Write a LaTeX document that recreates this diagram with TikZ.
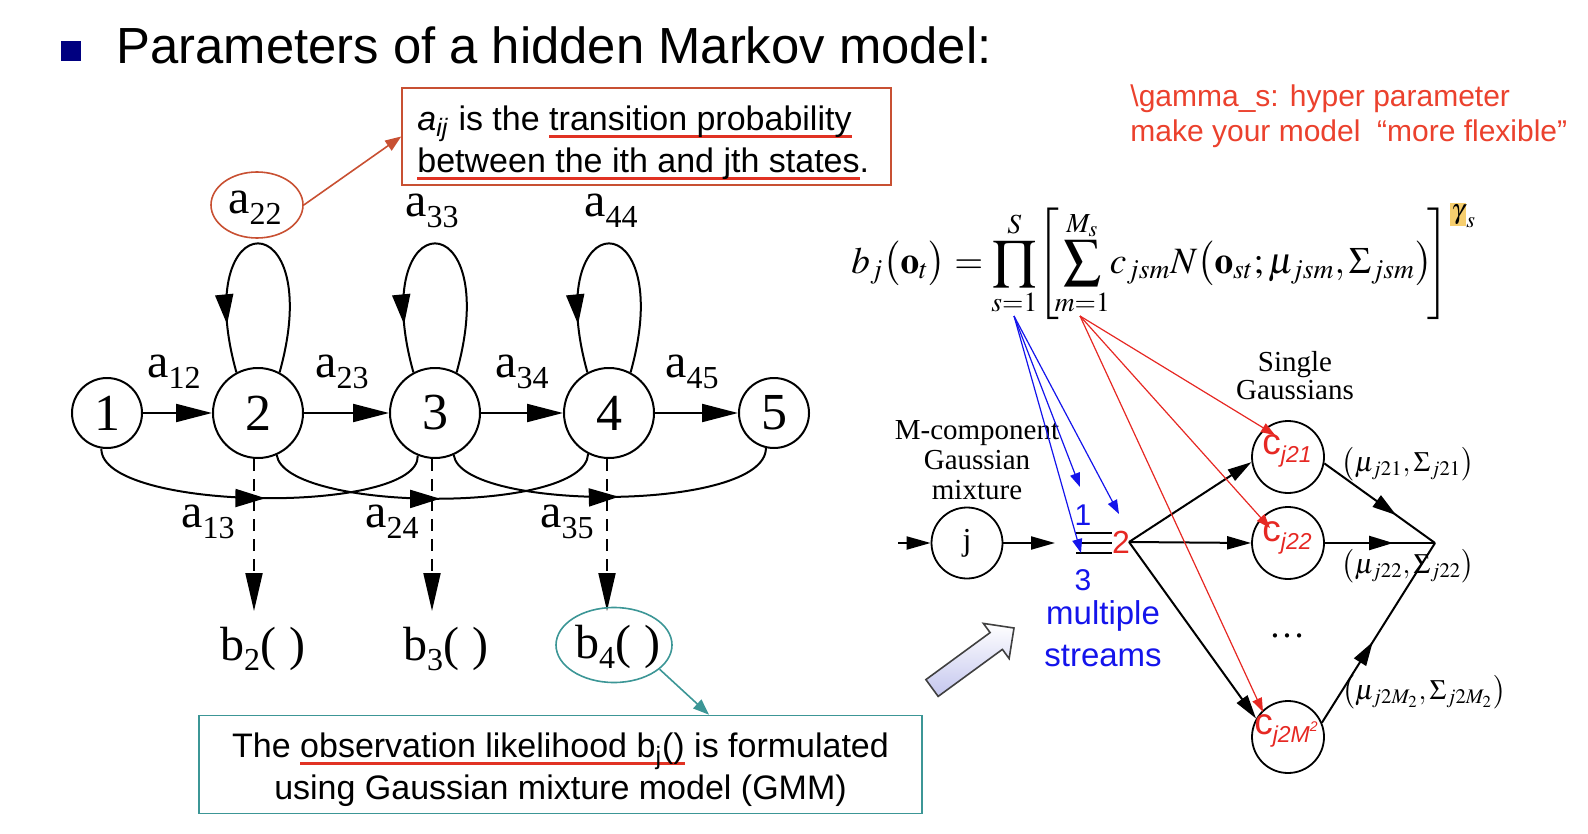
\documentclass[tikz,border=0pt]{standalone}
\usepackage{mathptmx}
\usepackage{fontspec}
\setmainfont{Liberation Serif}
\newfontfamily\arial{Liberation Sans}
\usetikzlibrary{arrows.meta,decorations.markings,shapes.geometric,calc}
\definecolor{hred}{RGB}{200,80,50}
\definecolor{ulred}{RGB}{225,50,35}
\definecolor{tealc}{RGB}{60,150,150}
\definecolor{txtred}{RGB}{235,65,45}
\definecolor{cred}{RGB}{230,40,35}
\definecolor{sblue}{RGB}{20,20,235}
\definecolor{navyc}{RGB}{0,0,128}
\definecolor{gamhl}{RGB}{246,206,110}
\definecolor{lavc}{RGB}{196,198,238}
\newsavebox\myulbox
\newcommand\redul[1]{\leavevmode\sbox\myulbox{#1}\rlap{\textcolor{ulred}{\rule[-0.42ex]{\wd\myulbox}{1.5pt}}}\usebox\myulbox}
\newcommand\lsub[1]{\raisebox{-0.22em}{\fontsize{16}{16}\selectfont #1}}
\newcommand\csub[1]{\raisebox{-0.2em}{\fontsize{11.5}{11.5}\selectfont\itshape #1}}
\begin{document}
\begin{tikzpicture}[x=0.5pt,y=-0.5pt,
  hst/.style={circle, draw, line width=1pt, inner sep=0, font=\fontsize{26}{26}\selectfont},
  bigst/.style={hst, minimum size=45pt},
  smst/.style={hst, minimum size=35pt},
  harr/.style={line width=1pt, -{Triangle[length=18pt,width=9pt]}},
  midarr/.style={line width=1pt, postaction={decorate}, decoration={markings, mark=at position #1 with {\arrow{Triangle[length=15pt,width=9pt]}}}},
  dsh/.style={line width=1pt, dash pattern=on 6pt off 4pt, -{Triangle[length=19pt,width=8.5pt]}},
  lab/.style={inner sep=0, font=\fontsize{24}{24}\selectfont},
  sans/.style={font=\arial\fontsize{17}{21}\selectfont},
  rst/.style={circle, draw, line width=0.9pt, inner sep=0, minimum size=36pt},
  gst/.style={rst, minimum size=35.5pt, font=\fontsize{16}{16}\selectfont},
  clab/.style={text=cred, inner sep=0, font=\arial\fontsize{18.5}{18}\selectfont},
  barr/.style={line width=1pt, -{Triangle[length=12pt,width=6.5pt]}},
  bmid/.style={line width=1pt, postaction={decorate}, decoration={markings, mark=at position #1 with {\arrow{Triangle[length=12pt,width=7pt]}}}},
  blarr/.style={draw=sblue, line width=0.6pt, -{Triangle[length=7pt,width=5pt]}},
  rdarr/.style={draw=cred, line width=0.6pt, -{Triangle[length=7pt,width=5pt]}},
  tms/.style={align=center, font=\fontsize{14.5}{15}\selectfont, inner sep=0},
  mul/.style={font=\fontsize{14}{14}\selectfont, inner sep=0}
]
\useasboundingbox (0,0) rectangle (1588,834);

% title
\fill[navyc] (61,41) rectangle (81,61);
\node[anchor=base west, inner sep=0, font=\arial\fontsize{25.4}{30}\selectfont] (title) at (116,64) {Parameters of a hidden Markov model:};

% top red box
\node[draw=hred, line width=0.8pt, minimum width=244.5pt, minimum height=48.5pt, inner sep=0] (box1) at (646.5,136.5) {};
\node[anchor=north west, inner sep=0, align=left, sans] (box1t) at (417,105)
  {\textit{a}\textsubscript{\textit{ij}} is the \redul{transition probability}\\\redul{between the ith and jth states}.};

% HMM states
\node[smst] (n1) at (107,413) {1};
\node[bigst] (n2) at (258,413) {2};
\node[bigst] (n3) at (435,413) {3};
\node[bigst] (n4) at (609,413) {4};
\node[smst] (n5) at (774,413) {5};

\draw[harr] (n1) -- (n2);
\draw[harr] (n2) -- (n3);
\draw[harr] (n3) -- (n4);
\draw[harr] (n4) -- (n5);

\node[lab] (a12) at (174,372) {a\lsub{12}};
\node[lab] (a23) at (342,372) {a\lsub{23}};
\node[lab] (a34) at (522,372) {a\lsub{34}};
\node[lab] (a45) at (692,372) {a\lsub{45}};

% self loops
\foreach \n in {n2,n3,n4}{
  \draw[midarr=0.83] (\n.62) .. controls +(48,-172) and +(-48,-172) .. (\n.118);
}
\node[lab] (a22) at (255,208) {a\lsub{22}};
\node[lab] (a33) at (432,211) {a\lsub{33}};
\node[lab] (a44) at (611,211) {a\lsub{44}};
\node[draw=hred, line width=0.8pt, ellipse, minimum width=46pt, minimum height=33pt, inner sep=0] (e22) at (257,205) {};
\draw[hred, line width=0.8pt, -{Triangle[length=8pt,width=6pt]}] (e22.east) -- (box1.west);

% skip transitions
\draw[midarr=0.52] (n1.-99) .. controls (100,512) and (420,515) .. (n3.-112);
\draw[midarr=0.52] (n2.-66) .. controls (285,512) and (585,515) .. (n4.-117);
\draw[midarr=0.52] (n3.-66) .. controls (462,512) and (766,512) .. (n5.-103);
\node[lab] (a13) at (208,522) {a\lsub{13}};
\node[lab] (a24) at (392,522) {a\lsub{24}};
\node[lab] (a35) at (567,522) {a\lsub{35}};

% observation arrows
\coordinate (d2) at (254,611);
\coordinate (d3) at (432,611);
\coordinate (d4) at (607,611);
\draw[dsh] (d2 |- n2.south) -- (d2);
\draw[dsh] (d3 |- n3.south) -- (d3);
\draw[dsh] (d4 |- n4.south) -- (d4);
\node[lab] (b2) at (263,649) {b\lsub{2}(\hspace{7pt})};
\node[lab] (b3) at (446,649) {b\lsub{3}(\hspace{7pt})};
\node[lab] (b4) at (618,647) {b\lsub{4}(\hspace{7pt})};
\node[draw=tealc, line width=0.8pt, ellipse, minimum width=58pt, minimum height=37.5pt, inner sep=0] (e4) at (614,645) {};

% bottom teal box
\node[draw=tealc, line width=0.8pt, minimum width=361.5pt, minimum height=49pt, inner sep=0] (box2) at (560.5,764.5) {};
\node[inner sep=0, align=center, sans] (box2t) at (560.5,770)
  {The \redul{observation likelihood b\textsubscript{j}()} is formulated\\using Gaussian mixture model (GMM)};
\coordinate (tt) at (709,0);
\draw[tealc, line width=0.8pt, -{Triangle[length=8pt,width=6pt]}] (e4.-28) -- (tt |- box2.north);

% red note
\node[anchor=west, align=left, inner sep=0, text=txtred, font=\arial\fontsize{15}{17.5}\selectfont] (note) at (1130,116)
  {\textbackslash gamma\_s: hyper parameter\\make your model\ \ “more flexible”};

% formula
\node[anchor=base west, inner sep=0, font=\fontsize{18.6}{23}\selectfont] (frm) at (851,273)
  {$\displaystyle b_j\bigl(\mathbf{o}_t\bigr)=\prod_{s=1}^{S}\!\left[\!\sum_{m=1}^{M_s}\! c_{jsm}N\bigl(\mathbf{o}_{st};\mu_{jsm},\Sigma_{jsm}\bigr)\!\right]^{\setlength{\fboxsep}{0.8pt}\colorbox{gamhl}{$\scriptstyle\gamma$}_s}$};

% right diagram
\node[gst] (j) at (967,543) {j};
\node[rst] (c21) at (1288,457) {};
\node[rst] (c22) at (1288,543) {};
\node[rst] (c2M) at (1288,737) {};
\node[clab] (lc21) at (1287,451) {c\csub{j21}};
\node[clab] (lc22) at (1287,538) {c\csub{j22}};
\node[clab] (lc2M) at (1286,731) {c\csub{j2M\raisebox{0.45em}{\fontsize{7}{7}\selectfont 2}}};

\coordinate (inj) at (898,543);
\coordinate (jt) at (1055,543);
\coordinate (sp) at (1129,542);
\coordinate (mg) at (1435,543);
\draw[barr] (inj) -- (j);
\draw[barr] (j) -- (jt);
\draw[line width=1pt] (1076,533) -- (1112,533) (1076,543) -- (1112,543) (1076,553) -- (1112,553);
\draw[barr] (sp) -- (c21.188);
\draw[barr] (sp) -- (c22.west);
\draw[barr] (sp) -- (c2M.150);
\draw[bmid=0.65] (c21.-10) -- (mg);
\draw[bmid=0.62] (c22.east) -- (mg);
\draw[bmid=0.45] (c2M.23) -- (mg);

\node[tms] (mcg) at (977,460) {M-component\\Gaussian\\mixture};
\node[tms, font=\fontsize{14.5}{14}\selectfont] (sg) at (1295,376) {Single\\Gaussians};
\node[mul] (m1) at (1408,464) {$\bigl(\mu_{j21},\Sigma_{j21}\bigr)$};
\node[mul] (m2) at (1408,566) {$\bigl(\mu_{j22},\Sigma_{j22}\bigr)$};
\node[mul] (m3) at (1424,692) {$\bigl(\mu_{j2M_2},\Sigma_{j2M_2}\bigr)$};
\node[inner sep=0, font=\fontsize{18}{18}\selectfont] (dots) at (1287,636) {\ldots};

\node[inner sep=0, text=sblue, font=\arial\fontsize{15}{15}\selectfont] (s1) at (1083,515) {1};
\node[inner sep=0, text=sblue, font=\arial\fontsize{15}{15}\selectfont] (s3) at (1083,580) {3};
\node[inner sep=0, text=cred, font=\arial\fontsize{16}{16}\selectfont] (s2) at (1121,542) {2};
\node[inner sep=0, align=center, text=sblue, font=\arial\fontsize{16.5}{21}\selectfont] (ms) at (1103,634) {multiple\\streams};

% blue and red pointers
\coordinate (bo) at (1014,316);
\coordinate (ro) at (1080,316);
\coordinate (bt1) at (1080,487);
\coordinate (bt2) at (1119,514);
\coordinate (bt3) at (1081,553);
\draw[blarr] (bo) -- (bt1);
\draw[blarr] (bo) -- (bt2);
\draw[blarr] (bo) -- (bt3);
\coordinate (rt1) at (1275,435);
\coordinate (rt2) at (1270,528);
\coordinate (rt3) at (1263,712);
\draw[rdarr] (ro) -- (rt1);
\draw[rdarr] (ro) -- (rt2);
\draw[rdarr] (ro) -- (rt3);

% hollow arrow
\begin{scope}[shift={(973,658)}, rotate=36.2]
  \shade[top color=white, bottom color=lavc, draw=black!75, line width=0.8pt, line join=miter]
    (-50.8,-10.4) -- (28.8,-10.4) -- (28.8,-21.8) -- (50.8,0) -- (28.8,21.8) -- (28.8,10.4) -- (-50.8,10.4) -- cycle;
\end{scope}
\end{tikzpicture}
\end{document}
